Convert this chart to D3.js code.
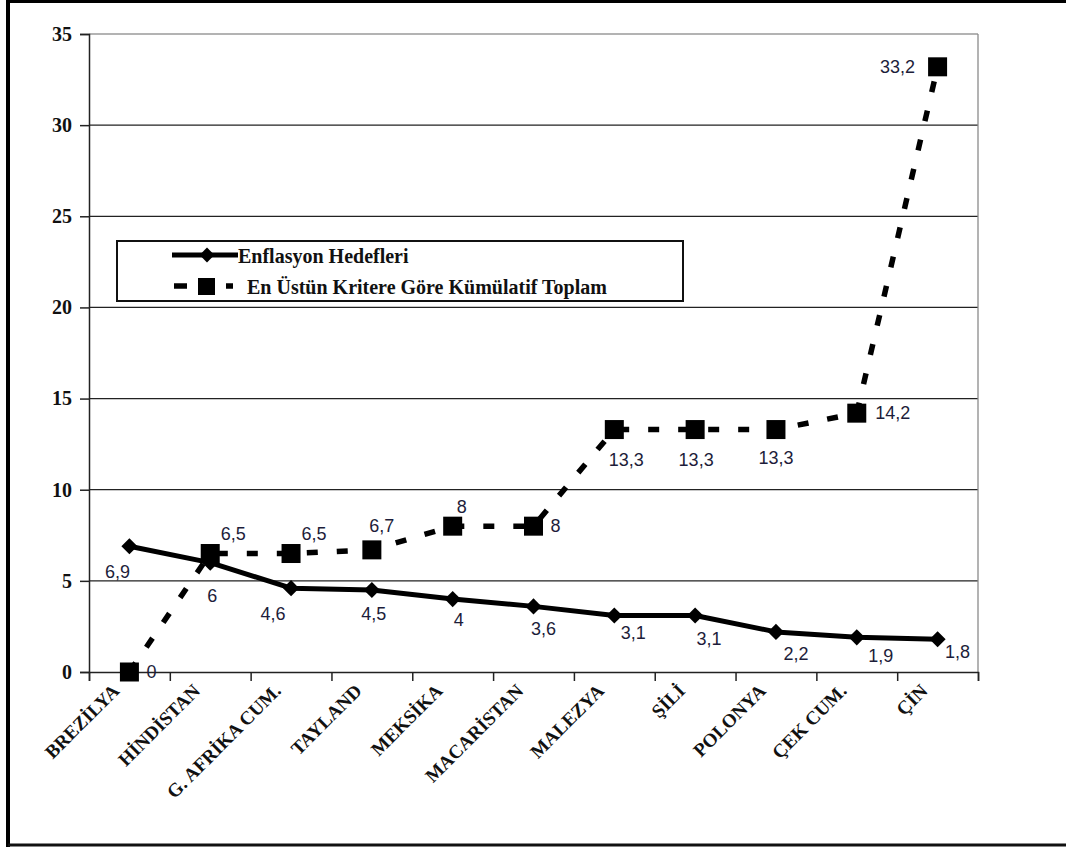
<!DOCTYPE html>
<html>
<head>
<meta charset="utf-8">
<script src="https://cdn.jsdelivr.net/npm/d3@7"></script>
<style>
  html, body { margin: 0; padding: 0; background: #fff; }
  svg { display: block; }
</style>
</head>
<body>
<svg id="chart" width="1066" height="847"></svg>
<script>
// Countries on the horizontal axis
const categories = ["BREZİLYA", "HİNDİSTAN", "G. AFRİKA CUM.", "TAYLAND", "MEKSİKA",
  "MACARİSTAN", "MALEZYA", "ŞİLİ", "POLONYA", "ÇEK CUM.", "ÇİN"];

// Inflation targets (solid line, diamonds)
const enflasyonHedefleri = [6.9, 6, 4.6, 4.5, 4, 3.6, 3.1, 3.1, 2.2, 1.9, 1.8];

// Cumulative total by the top criterion (dashed line, squares)
const kumulatifToplam = [0, 6.5, 6.5, 6.7, 8, 8, 13.3, 13.3, 13.3, 14.2, 33.2];

// Value axis ticks
const yTicks = [0, 5, 10, 15, 20, 25, 30, 35];

// Series names for the legend
const seriesNames = ["Enflasyon Hedefleri", "En Üstün Kritere Göre Kümülatif Toplam"];

// Label nudges (dx, dy) relative to each point
const labelOffsetA = [[-12, 26], [2, 33], [-18, 26], [2, 24], [6, 21], [10, 23],
  [19, 18], [14, 24], [20, 22], [24, 19], [20, 13]];
const labelOffsetB = [[22, 0], [23, -20], [23, -20], [10, -24], [9, -19], [22, 0],
  [12, 30], [1, 30], [0, 28], [36, 0], [-40, 0]];

const fmt = v => String(v).replace(".", ",");

const serif = "'Liberation Serif', 'Times New Roman', serif";
const sans = "'Liberation Sans', Arial, sans-serif";

const svg = d3.select("#chart");

// Outer frame
svg.append("line").attr("x1", 8).attr("y1", 1.5).attr("x2", 1066).attr("y2", 1.5)
  .attr("stroke", "#000").attr("stroke-width", 3);
svg.append("line").attr("x1", 8).attr("y1", 0).attr("x2", 8).attr("y2", 847)
  .attr("stroke", "#000").attr("stroke-width", 4);
svg.append("line").attr("x1", 8).attr("y1", 845).attr("x2", 1066).attr("y2", 845)
  .attr("stroke", "#111").attr("stroke-width", 3);

const plotLeft = 89, plotRight = 978, plotTop = 34, plotBottom = 672;

const x = d3.scaleBand().domain(categories).range([plotLeft, plotRight]).padding(0);
const cx = c => x(c) + x.bandwidth() / 2;
const xIdx = d3.scaleLinear().domain([0, categories.length]).range([plotLeft, plotRight]);
const y = d3.scaleLinear().domain([0, 35]).range([plotBottom, plotTop]);

// Horizontal gridlines
svg.append("g").selectAll("line")
  .data(yTicks.filter(t => t > 0))
  .join("line")
  .attr("x1", plotLeft).attr("x2", plotRight)
  .attr("y1", d => y(d)).attr("y2", d => y(d))
  .attr("stroke", d => d === 35 ? "#9a9a9a" : "#222")
  .attr("stroke-width", 1.3);

// Right border of the plot area
svg.append("line")
  .attr("x1", plotRight).attr("x2", plotRight)
  .attr("y1", plotTop).attr("y2", plotBottom)
  .attr("stroke", "#8a8a8a").attr("stroke-width", 1.3);

// Y axis
const yAxis = svg.append("g")
  .attr("transform", `translate(${plotLeft},0)`)
  .call(d3.axisLeft(y).tickValues(yTicks).tickSize(9).tickPadding(8).tickFormat(d3.format("d")));
yAxis.select(".domain").attr("stroke", "#222").attr("stroke-width", 1.5);
yAxis.selectAll(".tick line").attr("stroke", "#222").attr("stroke-width", 1.5);
yAxis.selectAll(".tick text")
  .attr("font-family", serif)
  .attr("font-weight", "bold").attr("font-size", 20).attr("fill", "#111");

// X axis (ticks at category boundaries)
const xAxis = svg.append("g")
  .attr("transform", `translate(0,${plotBottom})`)
  .call(d3.axisBottom(xIdx).tickValues(d3.range(categories.length + 1)).tickSize(9).tickFormat(""));
xAxis.select(".domain").attr("stroke", "#222").attr("stroke-width", 1.5);
xAxis.selectAll(".tick line").attr("stroke", "#222").attr("stroke-width", 1.5);

// Rotated category labels
svg.append("g").selectAll("text")
  .data(categories)
  .join("text")
  .attr("transform", d => `translate(${cx(d) - 9},${plotBottom + 20}) rotate(-45)`)
  .attr("text-anchor", "end")
  .attr("font-family", serif)
  .attr("font-weight", "bold").attr("font-size", 19).attr("fill", "#111")
  .text(d => d);

// Series A: solid line with diamonds
const lineA = d3.line().x((d, i) => cx(categories[i])).y(d => y(d));
svg.append("path").datum(enflasyonHedefleri)
  .attr("d", lineA).attr("fill", "none")
  .attr("stroke", "#000").attr("stroke-width", 5).attr("stroke-linejoin", "round");

svg.append("g").selectAll("path")
  .data(enflasyonHedefleri)
  .join("path")
  .attr("transform", (d, i) => `translate(${cx(categories[i])},${y(d)}) rotate(45)`)
  .attr("d", d3.symbol().type(d3.symbolSquare).size(130))
  .attr("fill", "#000");

// Series B: dashed line with squares
const lineB = d3.line().x((d, i) => cx(categories[i])).y(d => y(d));
svg.append("path").datum(kumulatifToplam)
  .attr("d", lineB).attr("fill", "none")
  .attr("stroke", "#000").attr("stroke-width", 5.5)
  .attr("stroke-dasharray", "11,19");

svg.append("g").selectAll("rect")
  .data(kumulatifToplam)
  .join("rect")
  .attr("x", (d, i) => cx(categories[i]) - 9.5)
  .attr("y", d => y(d) - 9.5)
  .attr("width", 19).attr("height", 19)
  .attr("fill", "#000");

// Data labels
svg.append("g").selectAll("text")
  .data(enflasyonHedefleri)
  .join("text")
  .attr("x", (d, i) => cx(categories[i]) + labelOffsetA[i][0])
  .attr("y", (d, i) => y(d) + labelOffsetA[i][1])
  .attr("text-anchor", "middle").attr("dominant-baseline", "central")
  .attr("font-family", sans).attr("font-size", 18).attr("fill", "#1d1d3a")
  .text(d => fmt(d));

svg.append("g").selectAll("text")
  .data(kumulatifToplam)
  .join("text")
  .attr("x", (d, i) => cx(categories[i]) + labelOffsetB[i][0])
  .attr("y", (d, i) => y(d) + labelOffsetB[i][1])
  .attr("text-anchor", "middle").attr("dominant-baseline", "central")
  .attr("font-family", sans).attr("font-size", 18).attr("fill", "#1d1d3a")
  .text(d => fmt(d));

// Legend
const legend = svg.append("g");
legend.append("rect")
  .attr("x", 117).attr("y", 241).attr("width", 566).attr("height", 60)
  .attr("fill", "#fff").attr("stroke", "#111").attr("stroke-width", 2);

// Row 1: solid sample
legend.append("line").attr("x1", 172).attr("x2", 238).attr("y1", 255).attr("y2", 255)
  .attr("stroke", "#000").attr("stroke-width", 5);
legend.append("path")
  .attr("transform", "translate(207,255) rotate(45)")
  .attr("d", d3.symbol().type(d3.symbolSquare).size(110))
  .attr("fill", "#000");
legend.append("text").attr("x", 238).attr("y", 256)
  .attr("dominant-baseline", "central")
  .attr("font-family", serif).attr("font-weight", "bold").attr("font-size", 20)
  .attr("fill", "#111").text(seriesNames[0]);

// Row 2: dashed sample
legend.append("line").attr("x1", 174).attr("x2", 233).attr("y1", 286).attr("y2", 286)
  .attr("stroke", "#000").attr("stroke-width", 5.5)
  .attr("stroke-dasharray", "13,13");
legend.append("rect").attr("x", 198).attr("y", 278).attr("width", 17).attr("height", 17)
  .attr("fill", "#000");
legend.append("text").attr("x", 247).attr("y", 287)
  .attr("dominant-baseline", "central")
  .attr("font-family", serif).attr("font-weight", "bold").attr("font-size", 20)
  .attr("fill", "#111").text(seriesNames[1]);
</script>
</body>
</html>
